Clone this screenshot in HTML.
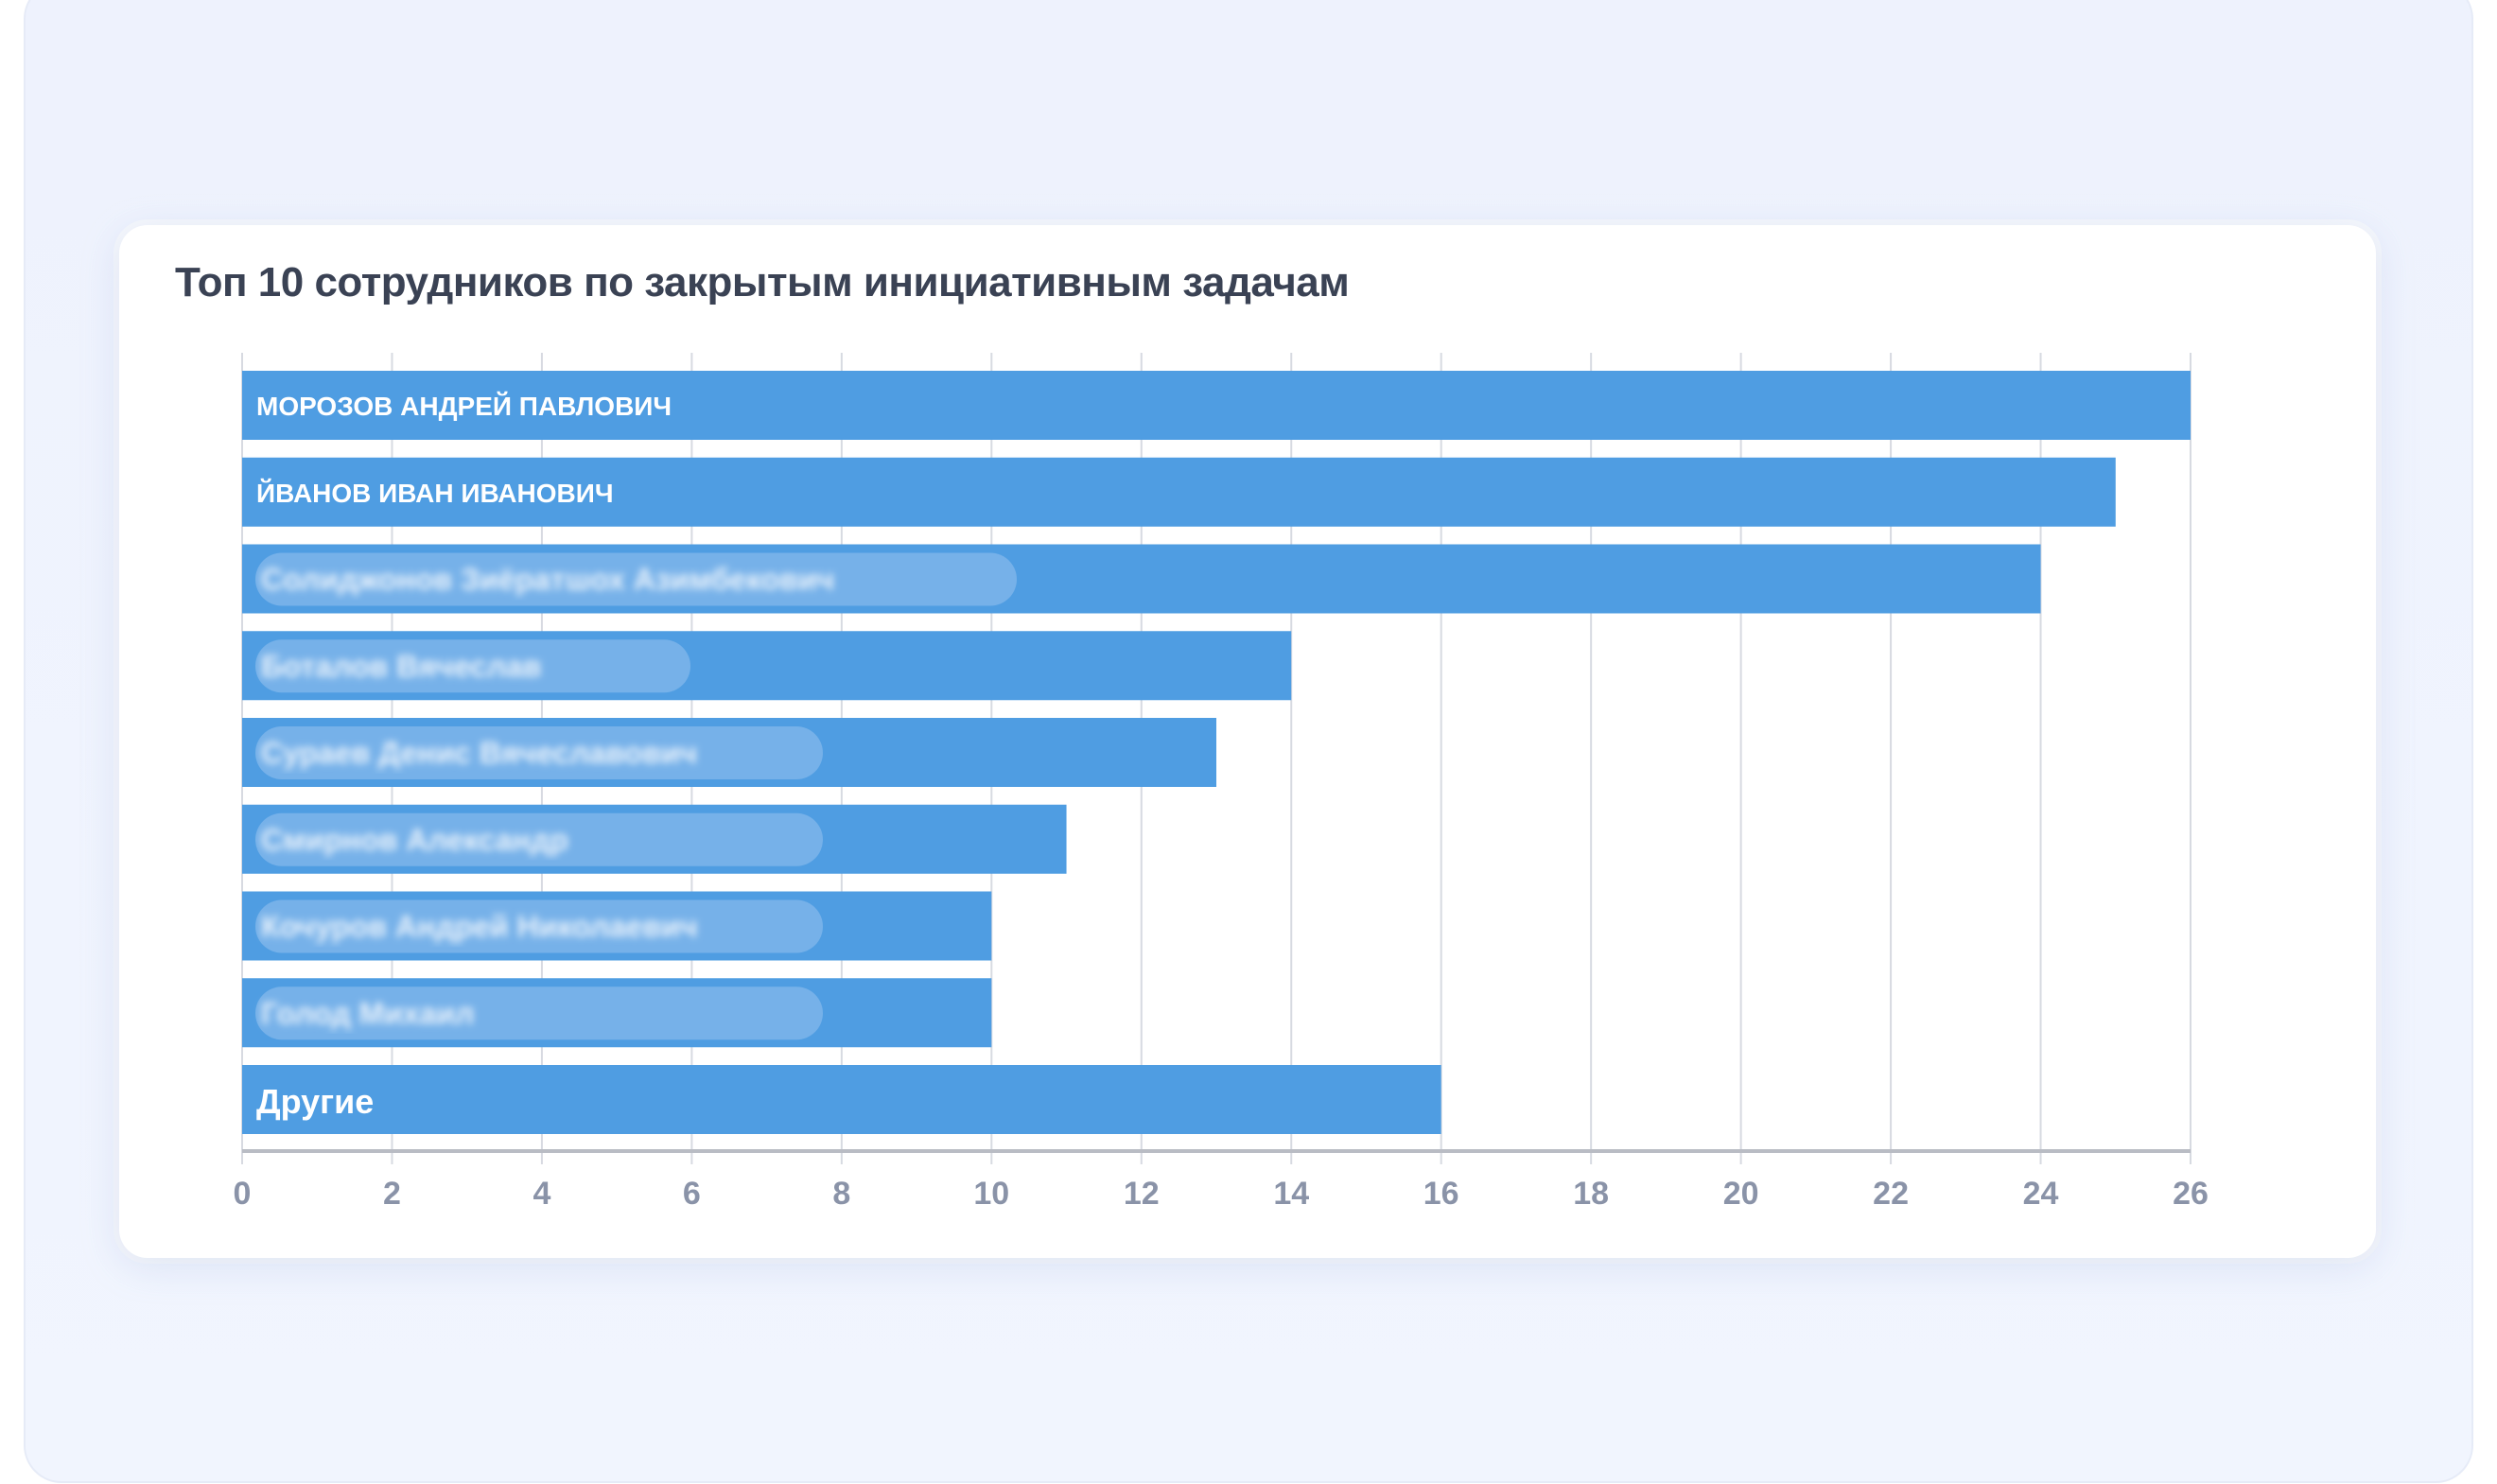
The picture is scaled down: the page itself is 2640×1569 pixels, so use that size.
<!DOCTYPE html>
<html><head><meta charset="utf-8"><style>
body{margin:0;width:2640px;height:1569px;background:#fff;font-family:"Liberation Sans","Noto Sans CJK SC",sans-serif;overflow:hidden;position:relative}
#outer{position:absolute;left:25px;top:-20px;width:2590px;height:1588px;border-radius:40px;background:linear-gradient(180deg,#eef2fd,#f1f5fe);border:2px solid #e6ebf7;box-sizing:border-box}
#card{position:absolute;left:126px;top:238px;width:2386px;height:1092px;background:#fff;border-radius:30px;box-shadow:0 8px 40px rgba(150,170,220,0.25),0 0 0 6px #f6f8fc}
#title{position:absolute;left:185px;top:274px;font-size:44px;font-weight:bold;color:#3a4254;letter-spacing:-0.5px}
svg{position:absolute;left:0;top:0}
</style></head><body>
<div id="outer"></div>
<div id="card"></div>
<div id="title">Топ 10 сотрудников по закрытым инициативным задачам</div>
<svg id="chart" width="2640" height="1569"></svg>
<script>
const categories=["МОРОЗОВ АНДРЕЙ ПАВЛОВИЧ","ЙВАНОВ ИВАН ИВАНОВИЧ","Солиджонов Зиёратшох Азимбекович","Боталов Вячеслав","Сураев Денис Вячеславович","Смирнов Александр","Кочуров Андрей Николаевич","Голод Михаил","Другие"];
const values=[26,25,24,14,13,11,10,10,16];
const blurred=[false,false,true,true,true,true,true,true,false];
const ticks=[0,2,4,6,8,10,12,14,16,18,20,22,24,26];
const NS="http://www.w3.org/2000/svg";
const svg=document.getElementById('chart');
const x0=256,x1=2316,xmax=26,yTop=373,yAxis=1217,barTop=392,pitch=91.75,barH=73;
const xs=v=>x0+(x1-x0)*v/xmax;
function mk(t,a){const e=document.createElementNS(NS,t);for(const k in a)e.setAttribute(k,a[k]);svg.appendChild(e);return e;}
const defs=mk('defs',{});defs.innerHTML='<filter id="bl"><feGaussianBlur stdDeviation="4"/></filter>';
ticks.forEach(t=>{
 const g=mk('line',{x1:xs(t),x2:xs(t),y1:yTop,y2:yAxis+14,stroke:'#d7dae1','stroke-width':2});
 
 
 const l=mk('text',{x:xs(t),y:1273,'text-anchor':'middle','font-size':34,'font-weight':'bold',fill:'#8a93a8'});
 l.textContent=t;
 
 
});
const ax=mk('line',{x1:x0,x2:x1,y1:yAxis,y2:yAxis,stroke:'#b9bcc4','stroke-width':4});


values.forEach((v,i)=>{
 const y=barTop+i*pitch;
 const r=mk('rect',{x:x0,y:y,width:xs(v)-x0,height:barH,fill:'#4f9de2'});
 
 
 if(blurred[i]){
  const p=mk('rect',{x:x0+14,y:y+9,width:i==2?805:(i==3?460:600),height:56,rx:28,fill:'#7cb5ea',opacity:0.85});
  
  
  const t=mk('text',{x:x0+20,y:y+48,'font-size':32,'font-weight':'bold',fill:'#eaf3fc',filter:'url(#bl)'});
  t.textContent=categories[i];
  
  
 } else {
  const last=i==categories.length-1;
  const t=mk('text',{x:x0+15,y:y+(last?51:47),'font-size':last?36:28,'font-weight':'bold',fill:'#fff'});
  t.textContent=categories[i];
  
  
 }
});
</script>
</body></html>
